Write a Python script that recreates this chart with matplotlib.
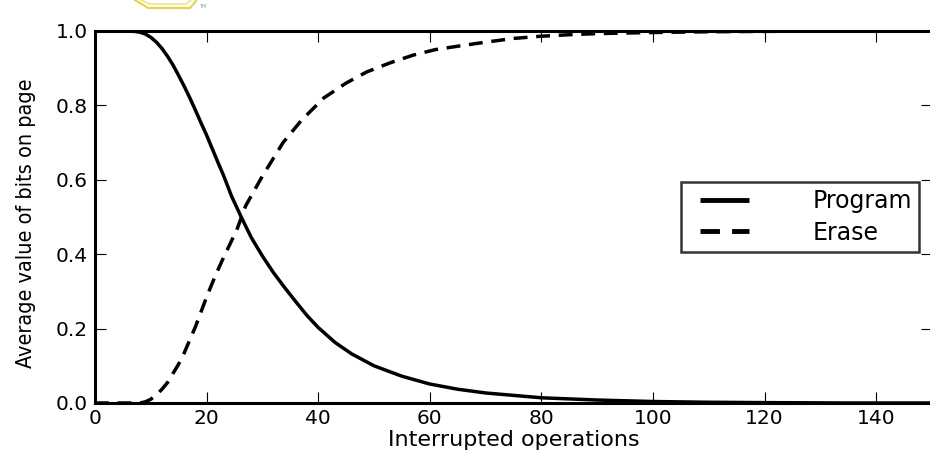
import matplotlib
matplotlib.use("Agg")
import numpy as np
import matplotlib.pyplot as plt
from matplotlib.lines import Line2D
from matplotlib.legend_handler import HandlerLine2D

# ---- data ----
program_x = [0, 5, 7, 8, 9, 10, 11, 12, 13, 14, 15, 16, 17, 18, 19, 20, 21, 22, 23,
             24.5, 26.3, 28, 30, 32, 34, 36, 38, 40, 43, 46, 50, 55, 60, 65, 70, 80,
             90, 100, 110, 120, 135, 150]
program_y = [1.0, 1.0, 0.999, 0.997, 0.992, 0.983, 0.97, 0.953, 0.932, 0.908, 0.88,
             0.851, 0.82, 0.787, 0.753, 0.72, 0.684, 0.648, 0.613, 0.555, 0.497,
             0.445, 0.395, 0.35, 0.31, 0.272, 0.235, 0.203, 0.163, 0.132, 0.1, 0.072,
             0.051, 0.037, 0.027, 0.014, 0.008, 0.004, 0.002, 0.001, 0.0, 0.0]

erase_x = [0, 5, 8, 9, 10, 11, 12, 13, 14, 15, 16, 17, 18, 19, 20, 21.5, 23, 25.4,
           27, 30, 33.7, 37, 41, 45, 48.7, 53, 57, 61, 65.4, 70, 75, 80, 85, 90, 100,
           110, 120, 130, 150]
erase_y = [0.0, 0.0, 0.0, 0.003, 0.01, 0.022, 0.037, 0.055, 0.08, 0.105, 0.135, 0.17,
           0.205, 0.245, 0.285, 0.34, 0.39, 0.465, 0.53, 0.61, 0.70, 0.76, 0.82, 0.86,
           0.89, 0.915, 0.935, 0.95, 0.96, 0.97, 0.98, 0.986, 0.99, 0.993, 0.996,
           0.998, 0.999, 1.0, 1.0]

series_labels = ["Program", "Erase"]
x_ticks = [0, 20, 40, 60, 80, 100, 120, 140]
y_ticks = [0.0, 0.2, 0.4, 0.6, 0.8, 1.0]
x_label = "Interrupted operations"
y_label = "Average value of bits on page"

W, H = 930, 451
fig = plt.figure(figsize=(W / 100, H / 100), dpi=100)
ax = fig.add_axes([95 / W, (H - 403) / H, 837 / W, 372 / H])

ax.plot(program_x, program_y, color="black", lw=2.5, solid_capstyle="butt",
        solid_joinstyle="round", label=series_labels[0])
ax.plot(erase_x, erase_y, color="black", lw=2.5, ls=(0, (4, 2.5)),
        dash_capstyle="butt", label=series_labels[1])

ax.set_xlim(0, 150)
ax.set_ylim(0, 1.0)
ax.set_xticks(x_ticks)
ax.set_yticks(y_ticks)
ax.set_yticklabels([f"{v:.1f}" for v in y_ticks])
ax.tick_params(direction="in", length=8, width=0.8, top=True, right=True,
               labelsize=14.5, pad=5)
ax.tick_params(axis="x", pad=4)
for s in ax.spines.values():
    s.set_linewidth(2.2)

ax.set_xlabel(x_label, fontsize=16, labelpad=2)
ax.set_ylabel(y_label, fontsize=15.5, family="DejaVu Sans", fontstretch="condensed")
ax.yaxis.set_label_coords((36 - 95) / 837, 0.484)


class OffsetLineHandler(HandlerLine2D):
    def get_xdata(self, legend, xdescent, ydescent, width, height, fontsize):
        xd = np.array([-xdescent + 0.5 * fontsize, -xdescent + width])
        return xd, xd


leg = ax.legend(loc="center right", fontsize=17, frameon=True, fancybox=False,
                borderpad=0.3, handlelength=2.55, handletextpad=2.7,
                labelspacing=0.3, borderaxespad=0.55,
                handler_map={Line2D: OffsetLineHandler()})
leg.get_frame().set_edgecolor("black")
leg.get_frame().set_linewidth(1.8)
for h in leg.get_lines():
    h.set_linewidth(3.5)

# cropped logo fragment at top
fig.add_artist(Line2D([135 / W, 148 / W, 190 / W, 196 / W], [1, 1 - 8 / H, 1 - 8 / H, 1 - 1 / H],
                      color="#e0d84a", lw=1.6, transform=fig.transFigure))
fig.add_artist(Line2D([141 / W, 150 / W, 186 / W, 191 / W], [1, 1 - 4 / H, 1 - 4 / H, 1],
                      color="#e8e07a", lw=1.0, transform=fig.transFigure))
fig.text(199 / W, 1 - 6 / H, "TM", fontsize=3.5, color="#999999", va="center")

fig.savefig("out.png", dpi=100)
